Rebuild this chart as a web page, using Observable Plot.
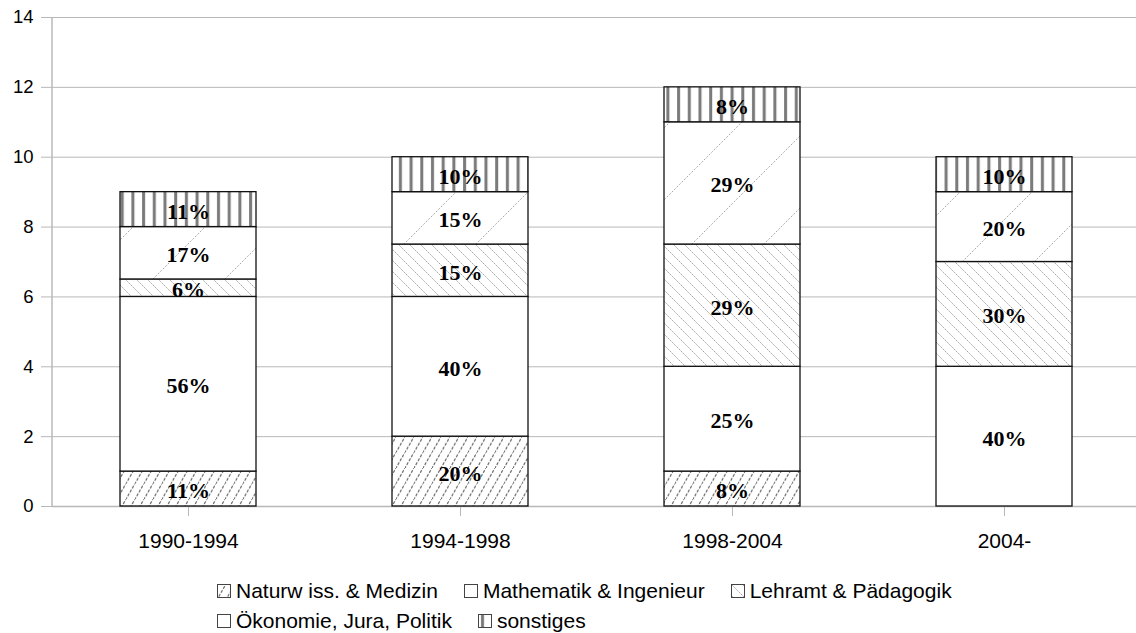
<!DOCTYPE html>
<html>
<head>
<meta charset="utf-8">
<script src="https://cdn.jsdelivr.net/npm/d3@7"></script>
<script src="https://cdn.jsdelivr.net/npm/@observablehq/plot@0.6"></script>
<style>
  html, body { margin: 0; padding: 0; background: #fff; }
  #chart svg { display: block; }
  .legend { font-family: "Liberation Sans", Arial, sans-serif; font-size: 21px; color: #000; padding-left: 217px; padding-top: 16px; }
  .legend .row { height: 30px; display: flex; align-items: center; }
  .legend .item { display: flex; align-items: center; margin-right: 26px; }
  .legend svg { margin-right: 5px; }
</style>
</head>
<body>
<svg width="0" height="0" style="position:absolute">
  <defs>
    <pattern id="pNat" patternUnits="userSpaceOnUse" width="9" height="15.6">
      <path d="M-0.5,16.5 L9.5,-0.9" stroke="#666" stroke-width="1.2" stroke-dasharray="3,1.5"/>
    </pattern>
    <pattern id="pMat" patternUnits="userSpaceOnUse" width="10" height="10">
      <rect width="10" height="10" fill="#fff"/>
    </pattern>
    <pattern id="pLehr" patternUnits="userSpaceOnUse" width="11" height="11">
      <rect width="11" height="11" fill="#fff"/>
      <path d="M-1,-1 L12,12" stroke="#a8a8a8" stroke-width="1" stroke-dasharray="2,1"/>
    </pattern>
    <pattern id="pOek" patternUnits="userSpaceOnUse" width="72" height="72">
      <rect width="72" height="72" fill="#fff"/>
      <path d="M-1,73 L73,-1" stroke="#aaa" stroke-width="1" stroke-dasharray="2,1.5"/>
    </pattern>
    <pattern id="pSon" patternUnits="userSpaceOnUse" width="10.7" height="10">
      <rect width="10.7" height="10" fill="#fff"/>
      <rect x="3" y="0" width="3" height="10" fill="#7a7a7a"/>
    </pattern>
  </defs>
</svg>
<div id="chart"></div>
<div class="legend" id="legend"></div>
<script>
const periods = ["1990-1994", "1994-1998", "1998-2004", "2004-"];
const fields = ["Naturw iss. & Medizin", "Mathematik & Ingenieur", "Lehramt & Pädagogik", "Ökonomie, Jura, Politik", "sonstiges"];
const naturwiss = [1, 2, 1, 0];
const mathematik = [5, 4, 3, 4];
const lehramt = [0.5, 1.5, 3.5, 3];
const oekonomie = [1.5, 1.5, 3.5, 2];
const sonstiges = [1, 1, 1, 1];
const yTicks = [0, 2, 4, 6, 8, 10, 12, 14];
const patterns = ["url(#pNat)", "url(#pMat)", "url(#pLehr)", "url(#pOek)", "url(#pSon)"];

const series = [naturwiss, mathematik, lehramt, oekonomie, sonstiges];
const totals = periods.map((p, i) => d3.sum(series, s => s[i]));
const data = [];
periods.forEach((p, i) => {
  fields.forEach((f, j) => {
    data.push({period: p, field: f, value: series[j][i], pct: Math.round(series[j][i] / totals[i] * 100) + "%"});
  });
});

const gridColor = "#b8b8b8";
const chart = Plot.plot({
  width: 1136,
  height: 560,
  marginLeft: 52,
  marginRight: 0,
  marginTop: 17,
  marginBottom: 54,
  style: {fontFamily: "'Liberation Sans', Arial, sans-serif", background: "#fff"},
  x: {domain: periods, range: [52, 1140], paddingInner: 0.5, paddingOuter: 0.25, label: null},
  y: {domain: [0, 14], label: null},
  color: {domain: fields, range: patterns},
  marks: [
    Plot.gridY(yTicks, {stroke: gridColor, strokeOpacity: 1}),
    Plot.ruleY([0], {stroke: gridColor, strokeWidth: 1.5}),
    (index, scales, values, dims) => {
      const l = document.createElementNS("http://www.w3.org/2000/svg", "line");
      l.setAttribute("x1", dims.marginLeft); l.setAttribute("x2", dims.marginLeft);
      l.setAttribute("y1", scales.y(0)); l.setAttribute("y2", scales.y(14));
      l.setAttribute("stroke", gridColor); l.setAttribute("stroke-width", 1.5);
      return l;
    },
    Plot.axisY(yTicks, {tickSize: 11, tickPadding: 8, fontSize: 18.5, stroke: gridColor, fill: "#000", label: null}),
    Plot.axisX({tickSize: 10, tickPadding: 17, fontSize: 21, stroke: gridColor, fill: "#000", label: null}),
    Plot.barY(data, {x: "period", y: "value", fill: "field", stroke: "#111", strokeWidth: 1.3, order: null}),
    Plot.text(data.filter(d => d.value > 0), Plot.stackY({x: "period", y: "value", z: "field", text: "pct", order: null,
      fontFamily: "'Liberation Serif', 'Times New Roman', serif", fontWeight: "bold", fontSize: 22, fill: "#000", dy: 2}))
  ]
});
document.getElementById("chart").append(chart);

// Legend
const legend = document.getElementById("legend");
const rows = [fields.slice(0, 3), fields.slice(3)];
rows.forEach(r => {
  const row = document.createElement("div");
  row.className = "row";
  r.forEach(f => {
    const item = document.createElement("div");
    item.className = "item";
    const idx = fields.indexOf(f);
    item.innerHTML = `<svg width="14" height="14"><rect x="0.5" y="0.5" width="13" height="13" fill="${patterns[idx]}" stroke="#444"/></svg><span>${f}</span>`;
    row.append(item);
  });
  legend.append(row);
});
</script>
</body>
</html>
